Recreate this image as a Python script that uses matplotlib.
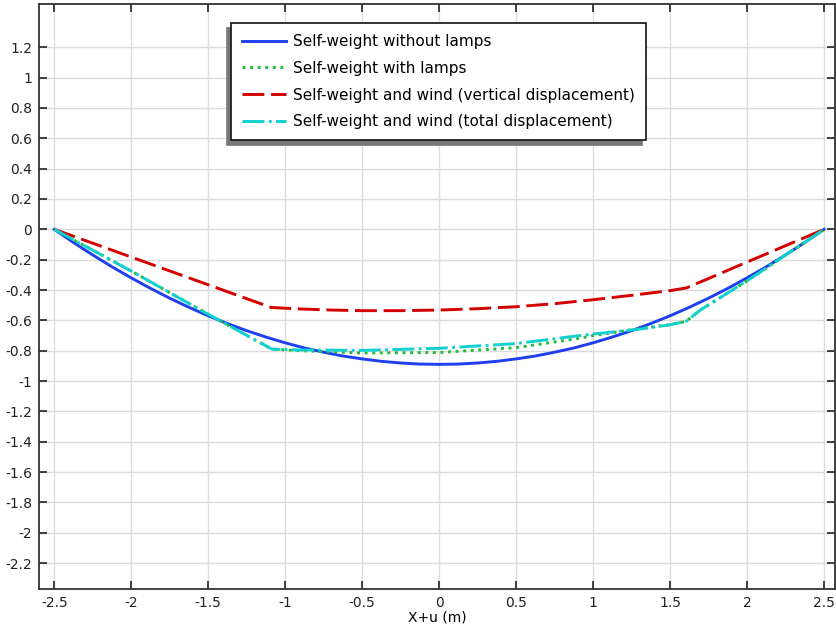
import matplotlib
matplotlib.use("Agg")
import matplotlib.pyplot as plt
import numpy as np

# Cable sag along the span, X+u (m) vs vertical position (m)
x_no_lamps = [-2.5, -2.375, -2.25, -2.125, -2.0, -1.875, -1.75, -1.625, -1.5, -1.375,
              -1.25, -1.125, -1.0, -0.875, -0.75, -0.625, -0.5, -0.375, -0.25, -0.125,
              0.0, 0.125, 0.25, 0.375, 0.5, 0.625, 0.75, 0.875, 1.0, 1.125,
              1.25, 1.375, 1.5, 1.625, 1.75, 1.875, 2.0, 2.125, 2.25, 2.375, 2.5]
y_no_lamps = [0.0, -0.087, -0.169, -0.247, -0.320, -0.389, -0.454, -0.514, -0.570, -0.621,
              -0.668, -0.710, -0.748, -0.782, -0.810, -0.835, -0.854, -0.870, -0.881, -0.888,
              -0.890, -0.888, -0.881, -0.870, -0.854, -0.835, -0.810, -0.782, -0.748, -0.710,
              -0.668, -0.621, -0.570, -0.514, -0.454, -0.389, -0.320, -0.247, -0.169, -0.087, 0.0]

x_lamps = [-2.5, -2.0, -1.5, -1.085, -0.9, -0.5, 0.0, 0.5, 0.9, 1.0, 1.3, 1.5, 1.603, 1.7, 2.0, 2.5]
y_lamps = [0.0, -0.275, -0.56, -0.79, -0.80, -0.815, -0.812, -0.78, -0.72, -0.70, -0.655, -0.628, -0.607, -0.53, -0.34, 0.0]

x_wind_vert = [-2.5, -1.091, -0.9, -0.7, -0.5, -0.25, 0.0, 0.25, 0.5, 0.75, 1.0, 1.25, 1.5, 1.607, 2.0, 2.5]
y_wind_vert = [0.0, -0.515, -0.525, -0.532, -0.536, -0.536, -0.532, -0.523, -0.51, -0.49, -0.464, -0.435, -0.404, -0.386, -0.216, 0.0]

x_wind_total = [-2.5, -2.0, -1.5, -1.085, -0.9, -0.5, 0.0, 0.5, 0.9, 1.0, 1.3, 1.5, 1.603, 1.7, 2.0, 2.5]
y_wind_total = [0.0, -0.275, -0.56, -0.79, -0.795, -0.798, -0.784, -0.753, -0.702, -0.69, -0.658, -0.629, -0.607, -0.53, -0.34, 0.0]

labels = ["Self-weight without lamps", "Self-weight with lamps",
          "Self-weight and wind (vertical displacement)",
          "Self-weight and wind (total displacement)"]

xticks = np.arange(-2.5, 2.51, 0.5)
yticks = np.arange(-2.2, 1.21, 0.2)

fig = plt.figure(figsize=(8.36, 6.29), dpi=100)
ax = fig.add_axes([0.0467, 0.063, 0.9527, 0.9306])

lw = 2.1
ax.plot(x_no_lamps, y_no_lamps, color="#1f3ff0", lw=lw, label=labels[0])
ax.plot(x_lamps, y_lamps, color="#22bb33", lw=lw, ls=(0, (1, 1.6)), label=labels[1])
ax.plot(x_wind_vert, y_wind_vert, color="#d40000", lw=lw, ls=(0, (7.5, 2.3)), label=labels[2])
ax.plot(x_wind_total, y_wind_total, color="#11d0d0", lw=lw, ls=(0, (7.5, 1.5, 1, 1.5)), label=labels[3])

ax.set_xlim(-2.599, 2.575)
ax.set_ylim(-2.373, 1.485)
ax.set_xticks(xticks)
ax.set_yticks(yticks)
ax.set_xticklabels([f"{v:g}" for v in xticks])
ax.set_yticklabels([f"{round(v, 1):g}" for v in yticks])

ax.grid(True, color="#dcdcdc", lw=1.0)
ax.set_axisbelow(True)
ax.tick_params(direction="in", length=6, width=1.2, top=True, right=True,
               labelsize=10, colors="#222222", pad=5)
for s in ax.spines.values():
    s.set_color("#333333")
    s.set_linewidth(1.3)

ax.set_xlabel("X+u (m)", fontsize=10, labelpad=0)

leg = ax.legend(loc="upper left", bbox_to_anchor=(0.241, 0.9675), borderaxespad=0,
                fontsize=11, frameon=True, fancybox=False, handlelength=2.9,
                handletextpad=0.45, borderpad=0.72, labelspacing=0.77,
                shadow={"ox": -3, "oy": -3.6, "color": "#777777", "shade": 0.0, "alpha": 1.0})
leg.get_frame().set_edgecolor("#111111")
leg.get_frame().set_linewidth(1.2)

fig.savefig("out.png", dpi=100)
